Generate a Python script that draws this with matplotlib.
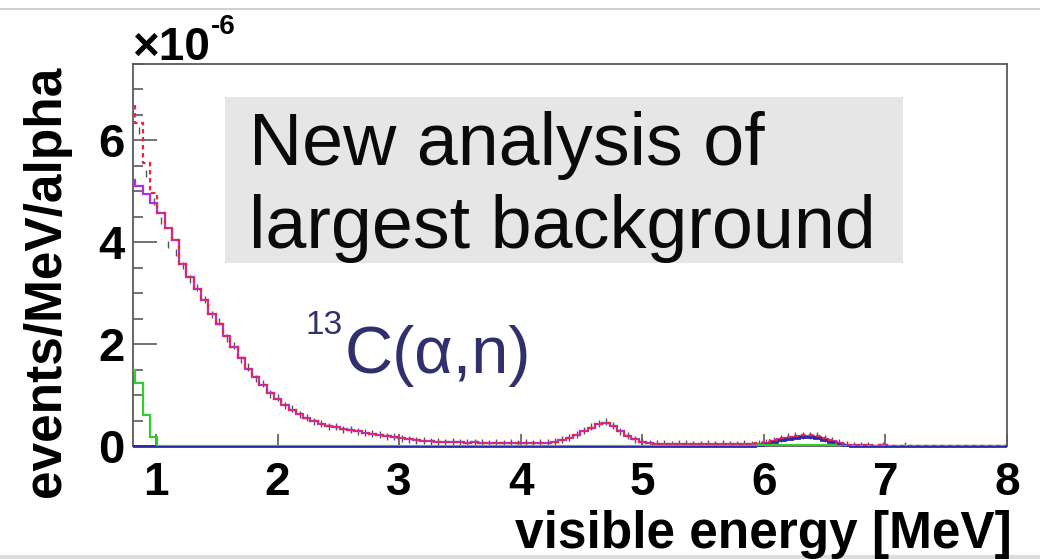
import numpy as np
import matplotlib
matplotlib.use("Agg")
import matplotlib.pyplot as plt
from matplotlib.patches import Rectangle
from matplotlib.ticker import MultipleLocator

plt.rcParams["font.family"] = ["Liberation Sans", "DejaVu Sans"]

# Energy binning (MeV)
bin_start = 0.77
bin_width = 0.06
n_bins = 121

# 13C(alpha,n) component, events/MeV/alpha in units of 1e-6
c13_an = [
    5.22, 5.10, 4.95, 4.78, 4.58, 4.28, 4.05, 3.58, 3.32, 3.08,
    2.86, 2.60, 2.40, 2.15, 1.95, 1.72, 1.52, 1.35, 1.20, 1.04,
    0.93, 0.80, 0.71, 0.62, 0.54, 0.49, 0.44, 0.40, 0.37, 0.34,
    0.31, 0.29, 0.26, 0.24, 0.22, 0.19, 0.17, 0.15, 0.13, 0.11,
    0.10, 0.09, 0.08, 0.07, 0.07, 0.07, 0.06, 0.07, 0.06, 0.06,
    0.06, 0.05, 0.06, 0.05, 0.05, 0.05, 0.06, 0.06, 0.08, 0.11,
    0.15, 0.21, 0.29, 0.36, 0.43, 0.46, 0.40, 0.30, 0.20, 0.13,
    0.08, 0.05, 0.04, 0.04, 0.03, 0.04, 0.03, 0.03, 0.04, 0.03,
    0.03, 0.03, 0.04, 0.03, 0.03, 0.03, 0.04, 0.06, 0.09, 0.13,
    0.16, 0.18, 0.19, 0.19, 0.18, 0.14, 0.09, 0.05, 0.02, 0.01,
    0.01, 0.01, 0.00, 0.01, 0.00, 0.00, 0.00, 0.00, 0.00, 0.00,
    0.00, 0.00, 0.00, 0.00, 0.00, 0.00, 0.00, 0.00, 0.00, 0.00,
    0.00,
]

# 16O excited-state part of the 13C(alpha,n) spectrum
o16_peak = [
    0.00, 0.00, 0.00, 0.00, 0.00, 0.00, 0.00, 0.00, 0.00, 0.00,
    0.00, 0.00, 0.00, 0.00, 0.00, 0.00, 0.00, 0.00, 0.00, 0.00,
    0.00, 0.00, 0.00, 0.00, 0.00, 0.00, 0.00, 0.00, 0.00, 0.00,
    0.00, 0.00, 0.00, 0.00, 0.00, 0.00, 0.00, 0.00, 0.00, 0.00,
    0.00, 0.00, 0.00, 0.00, 0.00, 0.00, 0.00, 0.00, 0.00, 0.00,
    0.00, 0.00, 0.00, 0.00, 0.00, 0.00, 0.00, 0.00, 0.00, 0.00,
    0.00, 0.00, 0.00, 0.00, 0.00, 0.00, 0.00, 0.00, 0.00, 0.00,
    0.00, 0.00, 0.00, 0.00, 0.00, 0.00, 0.00, 0.00, 0.00, 0.00,
    0.00, 0.00, 0.00, 0.00, 0.00, 0.00, 0.01, 0.04, 0.07, 0.11,
    0.14, 0.16, 0.17, 0.17, 0.16, 0.12, 0.07, 0.03, 0.01, 0.00,
    0.00, 0.00, 0.00, 0.00, 0.00, 0.00, 0.00, 0.00, 0.00, 0.00,
    0.00, 0.00, 0.00, 0.00, 0.00, 0.00, 0.00, 0.00, 0.00, 0.00,
    0.00,
]

# Other alpha-induced background
other_bkg = [
    1.50, 1.24, 0.60, 0.18, 0.00, 0.00, 0.00, 0.00, 0.00, 0.00,
    0.00, 0.00, 0.00, 0.00, 0.00, 0.00, 0.00, 0.00, 0.00, 0.00,
    0.00, 0.00, 0.00, 0.00, 0.00, 0.00, 0.00, 0.00, 0.00, 0.00,
    0.00, 0.00, 0.00, 0.00, 0.00, 0.00, 0.00, 0.00, 0.00, 0.00,
    0.00, 0.00, 0.00, 0.00, 0.00, 0.00, 0.00, 0.00, 0.00, 0.00,
    0.00, 0.00, 0.00, 0.00, 0.00, 0.00, 0.00, 0.00, 0.00, 0.00,
    0.00, 0.00, 0.00, 0.00, 0.00, 0.00, 0.00, 0.00, 0.00, 0.00,
    0.00, 0.00, 0.00, 0.00, 0.00, 0.00, 0.00, 0.00, 0.00, 0.00,
    0.00, 0.00, 0.00, 0.00, 0.00, 0.00, 0.01, 0.02, 0.02, 0.02,
    0.02, 0.02, 0.02, 0.02, 0.02, 0.02, 0.02, 0.00, 0.00, 0.00,
    0.00, 0.00, 0.00, 0.00, 0.00, 0.00, 0.00, 0.00, 0.00, 0.00,
    0.00, 0.00, 0.00, 0.00, 0.00, 0.00, 0.00, 0.00, 0.00, 0.00,
    0.00,
]

# Measured spectrum
measured = [
    6.62, 6.20, 5.35, 4.80, 4.42, 3.95, 3.80, 3.55, 3.28, 3.12,
    2.88, 2.58, 2.44, 2.12, 1.98, 1.70, 1.55, 1.33, 1.22, 1.02,
    0.95, 0.79, 0.73, 0.61, 0.56, 0.48, 0.45, 0.39, 0.38, 0.33,
    0.32, 0.28, 0.27, 0.24, 0.23, 0.19, 0.18, 0.14, 0.13, 0.11,
    0.10, 0.09, 0.08, 0.07, 0.08, 0.06, 0.07, 0.07, 0.06, 0.05,
    0.07, 0.05, 0.06, 0.05, 0.06, 0.05, 0.06, 0.07, 0.08, 0.12,
    0.16, 0.22, 0.30, 0.38, 0.45, 0.48, 0.41, 0.29, 0.21, 0.12,
    0.08, 0.05, 0.04, 0.04, 0.03, 0.04, 0.04, 0.03, 0.03, 0.04,
    0.03, 0.04, 0.03, 0.03, 0.04, 0.03, 0.04, 0.07, 0.10, 0.15,
    0.18, 0.20, 0.21, 0.20, 0.20, 0.15, 0.10, 0.06, 0.03, 0.01,
    0.01, 0.01, 0.00, 0.01, 0.00, 0.00, 0.01, 0.00, 0.00, 0.00,
    0.00, 0.00, 0.00, 0.00, 0.00, 0.00, 0.00, 0.00, 0.00, 0.00,
    0.00,
]
measured_err = 0.07

x_ticks = [1, 2, 3, 4, 5, 6, 7, 8]
y_ticks = [0, 2, 4, 6]
x_label = "visible energy [MeV]"
y_label = "events/MeV/alpha"
box_lines = ["New analysis of", "largest background"]

W, H = 1040, 559
DPI = 100
edges = bin_start + bin_width * np.arange(n_bins + 1)
centers = 0.5 * (edges[:-1] + edges[1:])
c13 = np.array(c13_an)
o16 = np.array(o16_peak)
other = np.array(other_bkg)
total = c13 + other
meas = np.array(measured)
has_counts = meas > 0


def fx(px):
    return px / W


def fy(py):
    return 1 - py / H


fig = plt.figure(figsize=(W / DPI, H / DPI), dpi=DPI)
fig.patch.set_facecolor("white")
ax = fig.add_axes([fx(133), fy(446), fx(1007) - fx(133), fy(64) - fy(446)])

frame_col = "#5a5a5a"
ax.errorbar(centers[has_counts], meas[has_counts], yerr=measured_err,
            fmt="none", ecolor="#555555", elinewidth=1.0, zorder=2)
ax.stairs(c13, edges, baseline=None, color="#b22ee0", lw=1.6, zorder=3)
blue = ax.stairs(o16, edges, baseline=None, color="#2a2aa8", lw=2.0, zorder=4)
# let the zero level show fully on the bottom frame, clipped left/right
clip_rect = Rectangle((0, -0.02), 1, 1.04, transform=ax.transAxes,
                      facecolor="none", edgecolor="none")
blue.set_clip_path(clip_rect)
ax.stairs(other, edges, baseline=None, color="#33cc33", lw=1.6, zorder=4)
ax.stairs(total, edges, baseline=None, color="#e8283c", lw=1.6,
          linestyle=(0, (2.0, 1.6)), zorder=5)

ax.set_xlim(0.81, 8.0)
ax.set_ylim(0, 7.5)
ax.set_xticks(x_ticks)
ax.set_yticks(y_ticks)
ax.yaxis.set_minor_locator(MultipleLocator(0.5))

for s in ax.spines.values():
    s.set_color(frame_col)
    s.set_linewidth(1.3)

ax.tick_params(axis="x", which="major", direction="in", length=9, width=1.2,
               color=frame_col, pad=11, labelsize=33)
ax.tick_params(axis="y", which="major", direction="in", length=17, width=1.2,
               color=frame_col, pad=6, labelsize=34)
ax.tick_params(axis="y", which="minor", direction="in", length=7.5, width=1.2,
               color=frame_col)
for lab in ax.get_xticklabels() + ax.get_yticklabels():
    lab.set_fontweight("bold")

# exponent label of the y axis
base = fig.text(fx(132), fy(60), "\u00d710", ha="left", va="baseline",
                fontsize=33, fontweight="bold")
renderer = fig.canvas.get_renderer()
bb = base.get_window_extent(renderer)
fig.text(bb.x1 / W + 0.001, fy(34), "-6", ha="left", va="baseline",
         fontsize=20, fontweight="bold")

fig.text(fx(47), fy(281), y_label, rotation=90, ha="center", va="center",
         fontsize=37, fontweight="bold")
fig.text(fx(1012), fy(548), x_label, ha="right", va="baseline",
         fontsize=37, fontweight="bold")

# annotation box
fig.patches.append(Rectangle((fx(225), fy(263)), fx(903) - fx(225),
                             fy(97) - fy(263), transform=fig.transFigure,
                             facecolor="#e6e6e6", edgecolor="none", zorder=1))
fig.text(fx(249), fy(165), box_lines[0], ha="left", va="baseline",
         fontsize=53, color="#0a0a0a", zorder=2)
fig.text(fx(249), fy(248), box_lines[1], ha="left", va="baseline",
         fontsize=53, color="#0a0a0a", zorder=2)

label_col = "#30306e"
fig.text(fx(305), fy(334), "13", ha="left", va="baseline",
         fontsize=24, color=label_col)
fig.text(fx(345), fy(373), "C(\u03b1,n)", ha="left", va="baseline",
         fontsize=48, color=label_col)

# slide rules at top and bottom
fig.add_artist(plt.Line2D([0, 1], [fy(9), fy(9)], transform=fig.transFigure,
                          color="#c8c8c8", lw=1.2))
fig.patches.append(Rectangle((0, 0), 1, fy(555), transform=fig.transFigure,
                             facecolor="#dcdcdc", edgecolor="none"))

fig.savefig("out.png", dpi=DPI)
